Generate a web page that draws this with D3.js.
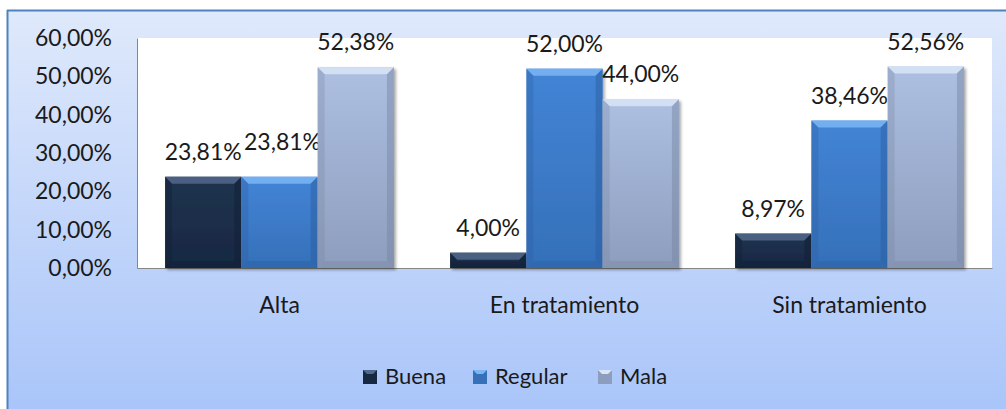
<!DOCTYPE html>
<html><head><meta charset="utf-8">
<script src="https://cdn.jsdelivr.net/npm/d3@7"></script>
<style>html,body{margin:0;padding:0;background:#fff;}svg{display:block;}</style>
</head><body>
<script>
const categories = ["Alta", "En tratamiento", "Sin tratamiento"];
const seriesNames = ["Buena", "Regular", "Mala"];
const buena = [23.81, 4.00, 8.97];
const regular = [23.81, 52.00, 38.46];
const mala = [52.38, 44.00, 52.56];
const yTicks = [0, 10, 20, 30, 40, 50, 60];

const W = 1006, H = 409;
const svg = d3.select("body").append("svg").attr("width", W).attr("height", H);
const defs = svg.append("defs");

const bg = defs.append("linearGradient").attr("id","bg").attr("x1",0).attr("y1",0).attr("x2",0).attr("y2",1);
bg.append("stop").attr("offset",0).attr("stop-color","#dfe9fb");
bg.append("stop").attr("offset",1).attr("stop-color","#a8c4f9");

const palettes = {
  Buena:   {top:"#20334f", bot:"#172842", hi:"#51698c", side:"#0f1c30"},
  Regular: {top:"#4384d6", bot:"#3570b9", hi:"#7ab6f5", side:"#2b5c9b"},
  Mala:    {top:"#adc0e2", bot:"#8d9dbd", hi:"#d9e4f6", side:"#76839f"}
};
seriesNames.forEach(s => {
  const g = defs.append("linearGradient").attr("id","g"+s).attr("x1",0).attr("y1",0).attr("x2",0).attr("y2",1);
  g.append("stop").attr("offset",0).attr("stop-color",palettes[s].top);
  g.append("stop").attr("offset",1).attr("stop-color",palettes[s].bot);
});
const sh = defs.append("filter").attr("id","shadow").attr("x","-20%").attr("y","-20%").attr("width","150%").attr("height","150%");
sh.append("feDropShadow").attr("dx",2).attr("dy",2).attr("stdDeviation",1.5).attr("flood-color","#000").attr("flood-opacity",0.35);

// outer background and frame
svg.append("rect").attr("x",7).attr("y",10).attr("width",W).attr("height",H).attr("fill","url(#bg)");
svg.append("line").attr("x1",7.5).attr("x2",7.5).attr("y1",10).attr("y2",H).attr("stroke","#4f81bd").attr("stroke-width",2);
svg.append("line").attr("x1",7).attr("x2",W).attr("y1",10.5).attr("y2",10.5).attr("stroke","#4f81bd").attr("stroke-width",2);

const plot = {left:137, right:992, top:38, bottom:268};
svg.append("rect").attr("x",plot.left).attr("y",plot.top).attr("width",plot.right-plot.left).attr("height",plot.bottom-plot.top).attr("fill","#fff");

const x0 = d3.scaleBand().domain(categories).range([plot.left, plot.right]).paddingInner(0.197).paddingOuter(0.0985);
const x1 = d3.scaleBand().domain(seriesNames).range([0, x0.bandwidth()]);
const y = d3.scaleLinear().domain([0, 60]).range([plot.bottom, plot.top]);

const fmt = v => v.toFixed(2).replace(".", ",") + "%";
const font = "Lato, 'Open Sans', sans-serif";
const fs = 23;

// axes
const yAxis = svg.append("g").attr("transform",`translate(${plot.left},0)`)
  .call(d3.axisLeft(y).tickValues(yTicks).tickSize(0).tickPadding(25).tickFormat(d => fmt(d)));
yAxis.select(".domain").attr("stroke","#868686");
yAxis.selectAll("text").attr("font-family",font).attr("font-size",fs).attr("fill","#1a1a1a");

const xAxis = svg.append("g").attr("transform",`translate(0,${plot.bottom})`)
  .call(d3.axisBottom(x0).tickSize(0).tickPadding(29));
xAxis.select(".domain").attr("stroke","#868686");
xAxis.selectAll("text").attr("font-family",font).attr("font-size",fs).attr("fill","#1a1a1a");

const data = categories.map((c,i)=>({cat:c, vals:[
  {s:"Buena", v:buena[i]}, {s:"Regular", v:regular[i]}, {s:"Mala", v:mala[i]}]}));

const groups = svg.append("g").selectAll("g").data(data).join("g")
  .attr("transform", d => `translate(${x0(d.cat)},0)`);

groups.each(function(d){
  const g = d3.select(this);
  d.vals.forEach((b, j) => {
    const bx = x1(b.s), bw = x1.bandwidth(), by = y(b.v), bh = plot.bottom - by;
    const p = palettes[b.s];
    const bar = g.append("g");
    bar.append("rect").attr("x",bx).attr("y",by).attr("width",bw).attr("height",bh)
      .attr("fill","url(#g"+b.s+")").attr("filter","url(#shadow)");
    const bev = Math.min(7, bh/2);
    bar.append("path").attr("d",`M${bx},${by} L${bx+bw},${by} L${bx+bw-bev},${by+bev} L${bx+bev},${by+bev} Z`)
      .attr("fill",p.hi).attr("opacity",0.85);
    bar.append("path").attr("d",`M${bx},${by} L${bx+bev},${by+bev} L${bx+bev},${plot.bottom-bev} L${bx},${plot.bottom} Z`)
      .attr("fill",p.side).attr("opacity",0.3);
    bar.append("path").attr("d",`M${bx+bw},${by} L${bx+bw-bev},${by+bev} L${bx+bw-bev},${plot.bottom-bev} L${bx+bw},${plot.bottom} Z`)
      .attr("fill",p.side).attr("opacity",0.45);
    bar.append("path").attr("d",`M${bx},${plot.bottom} L${bx+bev},${plot.bottom-bev} L${bx+bw-bev},${plot.bottom-bev} L${bx+bw},${plot.bottom} Z`)
      .attr("fill",p.side).attr("opacity",0.35);
    let lift = 17;
    if (j > 0 && Math.abs(d.vals[j-1].v - b.v) < 0.5) lift += 10;
    g.append("text").attr("x",bx+bw/2 + (lift>17?3:0)).attr("y",by-lift)
      .attr("text-anchor","middle").attr("font-family",font).attr("font-size",fs).attr("fill","#1a1a1a")
      .text(fmt(b.v));
  });
});

// legend
const legendX = [363, 473, 598];
const lg = svg.append("g");
seriesNames.forEach((s,i)=>{
  const p = palettes[s];
  const lx = legendX[i], ly = 370;
  lg.append("rect").attr("x",lx).attr("y",ly).attr("width",14).attr("height",14).attr("fill",p.bot);
  lg.append("path").attr("d",`M${lx},${ly} L${lx+14},${ly} L${lx+10},${ly+4} L${lx+4},${ly+4} Z`).attr("fill",p.hi);
  lg.append("text").attr("x",lx+22).attr("y",ly+14).attr("font-family",font).attr("font-size",22).attr("fill","#1a1a1a").text(s);
});
</script>
</body></html>
